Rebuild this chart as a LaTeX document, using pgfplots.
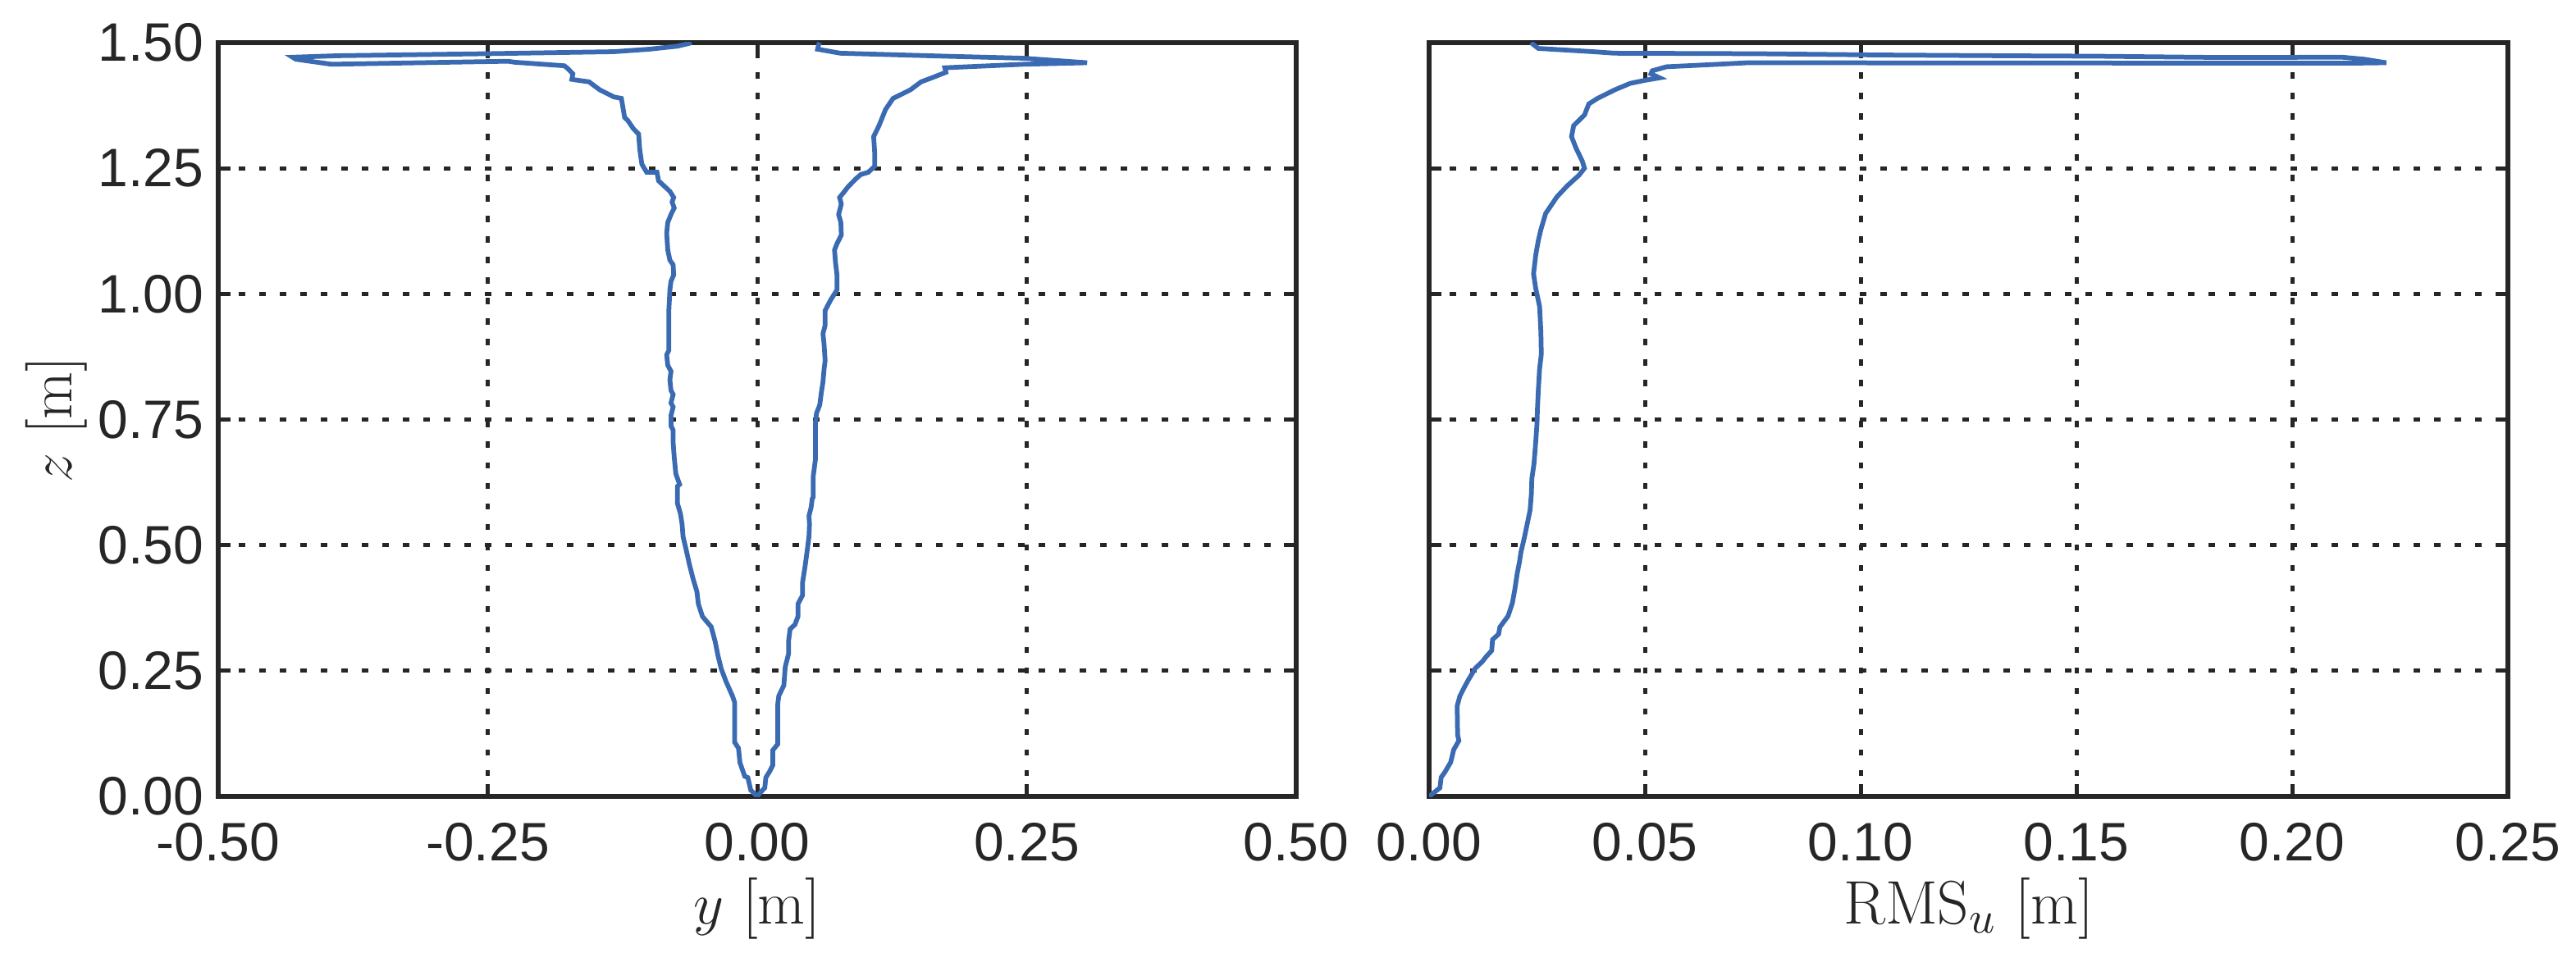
\documentclass[border=0pt]{standalone}
\usepackage{fontspec}
\usepackage{pgfplots}
\pgfplotsset{compat=1.18}
\newfontfamily\tickfont{Liberation Sans}
\definecolor{axc}{RGB}{38,38,38}
\definecolor{lineblue}{RGB}{58,106,178}
\pgfplotsset{
  myaxis/.style={
    scale only axis,
    height=183.8pt,
    ymin=0, ymax=1.5,
    ytick={0,0.25,0.5,0.75,1,1.25,1.5},
    axis line style={line width=1.05pt, color=axc},
    tick align=inside,
    xtick pos=both, ytick pos=both,
    major tick length=3pt,
    every tick/.style={line width=1pt, color=axc},
    grid=major,
    major grid style={dash pattern=on 1.5pt off 3.5pt, line width=1pt, color=axc},
    tick label style={font=\tickfont\fontsize{13.2}{15}\selectfont, color=axc},
    /pgf/number format/assume math mode=true,
    xticklabel style={/pgf/number format/.cd, fixed, fixed zerofill, precision=2, /tikz/.cd, yshift=-2.9pt},
    yticklabel style={/pgf/number format/.cd, fixed, fixed zerofill, precision=2},
    label style={font=\fontsize{15}{18}\selectfont, color=axc},
    xlabel style={at={(axis description cs:0.5,-0.0892)}, anchor=north},
    clip=true,
  }
}
\begin{document}
\begin{tikzpicture}
\begin{axis}[myaxis,
  at={(0,0)}, anchor=south west,
  width=262.8pt,
  xmin=-0.5, xmax=0.5,
  xtick={-0.5,-0.25,0,0.25,0.5},
  xlabel={$y$ [m]},
  ylabel={$z$ [m]},
  ylabel style={at={(axis description cs:-0.108,0.5)}, anchor=south},
]
\addplot[lineblue, line width=1.15pt] coordinates {
(0,0) (-0.006,0.0125) (-0.0087,0.0375) (-0.0116,0.04) (-0.016,0.067) (-0.0174,0.096)
(-0.021,0.108) (-0.021,0.1875) (-0.023,0.2) (-0.029,0.229) (-0.0334,0.254) (-0.0363,0.279)
(-0.039,0.308) (-0.0427,0.3375) (-0.0508,0.358) (-0.0546,0.383) (-0.056,0.408) (-0.0595,0.433)
(-0.063,0.4625) (-0.066,0.4917) (-0.0688,0.517) (-0.0697,0.5417) (-0.0712,0.5625) (-0.074,0.583)
(-0.074,0.617) (-0.072,0.621) (-0.0755,0.642) (-0.077,0.675) (-0.078,0.704) (-0.078,0.729)
(-0.080,0.7375) (-0.080,0.758) (-0.078,0.775) (-0.080,0.783) (-0.078,0.8) (-0.080,0.808)
(-0.081,0.829) (-0.080,0.846) (-0.083,0.858) (-0.084,0.879) (-0.082,0.8875) (-0.082,0.967)
(-0.081,1.008) (-0.080,1.025) (-0.0775,1.0375) (-0.078,1.058) (-0.081,1.067) (-0.083,1.0875)
(-0.084,1.121) (-0.083,1.142) (-0.080,1.158) (-0.077,1.171) (-0.079,1.183) (-0.0775,1.192)
(-0.081,1.204) (-0.0915,1.225) (-0.093,1.242) (-0.1025,1.242) (-0.107,1.258) (-0.109,1.288)
(-0.110,1.318) (-0.115,1.329) (-0.120,1.345) (-0.123,1.351) (-0.126,1.389) (-0.133,1.392)
(-0.146,1.406) (-0.156,1.422) (-0.166,1.425) (-0.172,1.427) (-0.171,1.438) (-0.176,1.449)
(-0.179,1.454) (-0.225,1.461) (-0.231,1.463) (-0.395,1.457) (-0.428,1.467) (-0.431,1.471)
(-0.389,1.474) (-0.251,1.478) (-0.133,1.482) (-0.100,1.487) (-0.074,1.493) (-0.064,1.498)
(-0.061,1.5)
};
\addplot[lineblue, line width=1.15pt] coordinates {
(0,0) (0.003,0.008) (0.007,0.017) (0.008,0.0375) (0.0116,0.05) (0.0145,0.0625)
(0.0145,0.092) (0.019,0.104) (0.019,0.183) (0.020,0.2) (0.0247,0.221) (0.026,0.258)
(0.029,0.283) (0.029,0.308) (0.0305,0.333) (0.035,0.342) (0.0378,0.358) (0.0378,0.383)
(0.042,0.4) (0.042,0.425) (0.0444,0.458) (0.0465,0.4917) (0.048,0.517) (0.0485,0.5417)
(0.048,0.558) (0.050,0.575) (0.051,0.592) (0.052,0.596) (0.052,0.6375) (0.054,0.671)
(0.054,0.742) (0.055,0.7625) (0.058,0.779) (0.0595,0.804) (0.061,0.825) (0.062,0.85)
(0.063,0.867) (0.062,0.9) (0.061,0.921) (0.063,0.9375) (0.063,0.967) (0.068,0.9875)
(0.074,1.008) (0.074,1.0375) (0.0726,1.0625) (0.0717,1.0875) (0.074,1.1) (0.078,1.117)
(0.0776,1.142) (0.0755,1.158) (0.078,1.179) (0.0764,1.192) (0.081,1.204) (0.084,1.2125)
(0.0915,1.229) (0.096,1.2375) (0.103,1.242) (0.109,1.254) (0.109,1.280) (0.108,1.313)
(0.113,1.335) (0.119,1.367) (0.126,1.389) (0.142,1.406) (0.152,1.422) (0.162,1.430)
(0.175,1.441) (0.174,1.450) (0.247,1.457) (0.306,1.460) (0.247,1.469) (0.175,1.473)
(0.077,1.479) (0.056,1.487) (0.057,1.496) (0.058,1.5)
};
\end{axis}
\begin{axis}[myaxis,
  at={(295.2pt,0)}, anchor=south west,
  width=263pt,
  xmin=0, xmax=0.25,
  xtick={0,0.05,0.1,0.15,0.2,0.25},
  yticklabels={},
  xlabel={$\mathrm{RMS}_u$ [m]},
]
\addplot[lineblue, line width=1.15pt] coordinates {
(0,0) (0.0025,0.017) (0.0028,0.038) (0.0037,0.049) (0.005,0.068) (0.0057,0.093)
(0.0069,0.111) (0.0066,0.122) (0.0065,0.18) (0.0071,0.199) (0.0079,0.213) (0.0091,0.232)
(0.0107,0.255) (0.0123,0.268) (0.0133,0.279) (0.0145,0.29) (0.0147,0.312) (0.0161,0.323)
(0.0164,0.337) (0.0183,0.359) (0.0193,0.385) (0.0199,0.414) (0.0204,0.443) (0.0209,0.465)
(0.0213,0.487) (0.0221,0.516) (0.0228,0.545) (0.0234,0.570) (0.0237,0.603) (0.0238,0.632)
(0.0243,0.662) (0.0247,0.705) (0.0250,0.742) (0.0251,0.771) (0.0253,0.807) (0.0256,0.851)
(0.0260,0.880) (0.0259,0.924) (0.0256,0.975) (0.0247,1.011) (0.0242,1.040) (0.0247,1.077)
(0.0253,1.106) (0.0259,1.128) (0.027,1.160) (0.0296,1.193) (0.032,1.215) (0.0347,1.236)
(0.036,1.25) (0.0355,1.264) (0.0340,1.291) (0.0330,1.313) (0.0335,1.335) (0.036,1.356)
(0.037,1.378) (0.039,1.389) (0.043,1.406) (0.0466,1.419) (0.050,1.425) (0.0534,1.430)
(0.0514,1.438) (0.0517,1.444) (0.055,1.452) (0.067,1.457) (0.0738,1.460) (0.213,1.459)
(0.2218,1.460) (0.2167,1.467) (0.2116,1.471) (0.183,1.4705) (0.155,1.473) (0.132,1.474)
(0.104,1.4755) (0.0755,1.478) (0.043,1.479) (0.038,1.482) (0.0253,1.4885) (0.0236,1.5)
};
\end{axis}
\pgfresetboundingbox
\useasboundingbox (-53.2pt,-41.4pt) rectangle (574.8pt,194.2pt);
\end{tikzpicture}
\end{document}
